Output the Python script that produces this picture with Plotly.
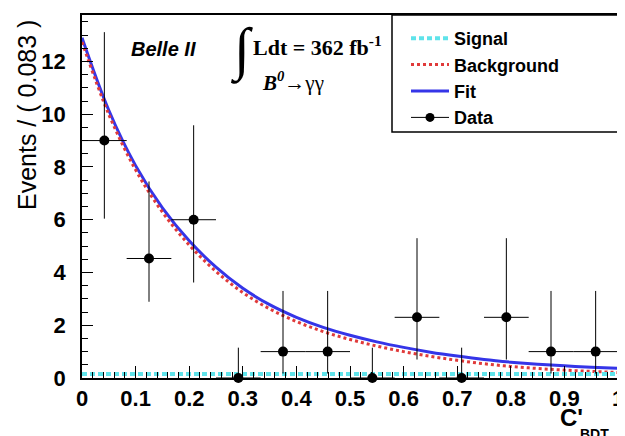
import plotly.graph_objects as go

# ---------------- data ----------------
bin_centers = [0.0417, 0.125, 0.2083, 0.2917, 0.375, 0.4583, 0.5417, 0.625, 0.7083, 0.7917, 0.875, 0.9583]
counts      = [9, 4.53, 6, 0, 1, 1, 0, 2.3, 0, 2.3, 1, 1]
err_up      = [4.11, 2.92, 3.58, 1.15, 2.30, 2.30, 1.15, 3.0, 1.15, 3.0, 2.30, 2.30]
err_down    = [2.96, 1.64, 2.38, 0, 0.83, 0.83, 0, 1.6, 0, 1.6, 0.83, 0.83]
bin_half    = [0.0417] * 12

curve_x = [0, 0.05, 0.1, 0.15, 0.2, 0.25, 0.3, 0.35, 0.4, 0.45, 0.5, 0.55, 0.6, 0.65, 0.7, 0.75, 0.8, 0.85, 0.9, 0.95, 1.0]
fit_y   = [12.9, 10.15, 8.05, 6.45, 5.2, 4.2, 3.4, 2.78, 2.3, 1.92, 1.62, 1.37, 1.16, 0.98, 0.83, 0.7, 0.6, 0.52, 0.46, 0.41, 0.37]
bkg_y   = [12.74, 9.99, 7.89, 6.29, 5.04, 4.04, 3.24, 2.62, 2.14, 1.76, 1.46, 1.21, 1.0, 0.82, 0.67, 0.54, 0.44, 0.36, 0.3, 0.25, 0.21]
sig_x   = [0, 1]
sig_y   = [0.15, 0.15]

x_ticks = [0, 0.1, 0.2, 0.3, 0.4, 0.5, 0.6, 0.7, 0.8, 0.9, 1]
x_tick_labels = ["0", "0.1", "0.2", "0.3", "0.4", "0.5", "0.6", "0.7", "0.8", "0.9", "1"]
y_ticks = [0, 2, 4, 6, 8, 10, 12]

# ---------------- layout helpers ----------------
# the page adds an 8px body margin, so the figure is made 8px smaller and
# page pixel positions are converted with that offset
OFF = 8
W, H = 625 - OFF, 436 - OFF
ML, MR, MT, MB = 82 - OFF, 7, 15 - OFF, 58
PW, PH = W - ML - MR, H - MT - MB


def px(xp):
    return (xp - OFF - ML) / PW


def py(yp):
    return (H - MB - (yp - OFF)) / PH


SANS = "Liberation Sans, Arial, sans-serif"
SERIF = "Liberation Serif, Times New Roman, serif"

fig = go.Figure()

fig.add_trace(go.Scatter(x=curve_x, y=fit_y, mode="lines", name="Fit",
                         line=dict(color="#3535e8", width=3, shape="spline"),
                         legendrank=3))
fig.add_trace(go.Scatter(x=curve_x, y=bkg_y, mode="lines", name="Background",
                         line=dict(color="#e03a3a", width=3, dash="dot", shape="spline"),
                         legendrank=2))
fig.add_trace(go.Scatter(x=sig_x, y=sig_y, mode="lines", name="Signal",
                         line=dict(color="#5fe3ea", width=4, dash="5px,3px"),
                         legendrank=1))
fig.add_trace(go.Scatter(x=bin_centers, y=counts, mode="markers", showlegend=False,
                         marker=dict(color="black", size=10),
                         error_y=dict(type="data", symmetric=False, array=err_up, arrayminus=err_down,
                                      color="black", thickness=1, width=0),
                         error_x=dict(type="data", array=bin_half, color="black", thickness=1, width=0),
                         cliponaxis=False))
fig.add_trace(go.Scatter(x=[None], y=[None], mode="lines+markers", name="Data",
                         line=dict(color="black", width=1), marker=dict(color="black", size=9),
                         legendrank=4))

# legend frame
fig.add_shape(type="rect", xref="paper", yref="paper",
              x0=px(392), x1=px(618), y0=py(132), y1=py(15),
              line=dict(color="black", width=1.5), fillcolor="rgba(0,0,0,0)")

ann = [
    dict(text="<b><i>Belle II</i></b>", x=px(129), y=py(49), xanchor="left", yanchor="middle",
         font=dict(family=SANS, size=20, color="black")),
    dict(text="∫", x=px(241), y=py(50), xanchor="center", yanchor="middle",
         font=dict(family=SERIF, size=58, color="black")),
    dict(text="<b>Ldt = 362 fb<sup>-1</sup></b>", x=px(251), y=py(46), xanchor="left", yanchor="middle",
         font=dict(family=SERIF, size=22, color="black")),
    dict(text="<b><i>B<sup>0</sup></i></b>→γγ", x=px(260), y=py(82), xanchor="left", yanchor="middle",
         font=dict(family=SERIF, size=21, color="black")),
    dict(text="Events / ( 0.083 )", x=px(27), y=py(115), xanchor="center", yanchor="middle",
         textangle=-90, font=dict(family=SANS, size=25, color="black")),
    dict(text="<b>C'</b>", x=px(558), y=py(402), xanchor="left", yanchor="top",
         font=dict(family=SANS, size=24, color="black")),
    dict(text="<b>BDT</b>", x=px(578), y=py(424), xanchor="left", yanchor="top",
         font=dict(family=SANS, size=14, color="black")),
]
for a in ann:
    a.update(xref="paper", yref="paper", showarrow=False)

fig.update_layout(
    width=W, height=H,
    margin=dict(l=ML, r=MR, t=MT, b=MB, autoexpand=False),
    paper_bgcolor="white", plot_bgcolor="white",
    annotations=ann,
    showlegend=True,
    legend=dict(x=px(406), y=py(20), xanchor="left", yanchor="top",
                bgcolor="rgba(0,0,0,0)", borderwidth=0,
                font=dict(family=SANS, size=18, color="black", weight="bold"),
                traceorder="normal", itemwidth=38),
    font=dict(family=SANS, color="black"),
)
fig.update_xaxes(range=[0, 1], tickvals=x_ticks, ticktext=x_tick_labels,
                 automargin=False, ticklabeloverflow="allow",
                 showgrid=False, zeroline=False,
                 showline=True, linecolor="black", linewidth=1.5, mirror=True,
                 ticks="inside", ticklen=12, tickwidth=1, tickcolor="black",
                 minor=dict(ticks="inside", ticklen=6, dtick=0.02, tickcolor="black", showgrid=False),
                 tickfont=dict(family=SANS, size=22, color="black", weight="bold"),
                 ticklabelstandoff=0)
fig.update_yaxes(range=[0, 13.76], tickvals=y_ticks,
                 automargin=False, ticklabeloverflow="allow",
                 showgrid=False, zeroline=False,
                 showline=True, linecolor="black", linewidth=1.5, mirror=True,
                 ticks="inside", ticklen=11, tickwidth=1, tickcolor="black",
                 minor=dict(ticks="inside", ticklen=6, dtick=0.5, tickcolor="black", showgrid=False),
                 tickfont=dict(family=SANS, size=22, color="black", weight="bold"),
                 ticklabelstandoff=10)

fig.write_html("out.html")
